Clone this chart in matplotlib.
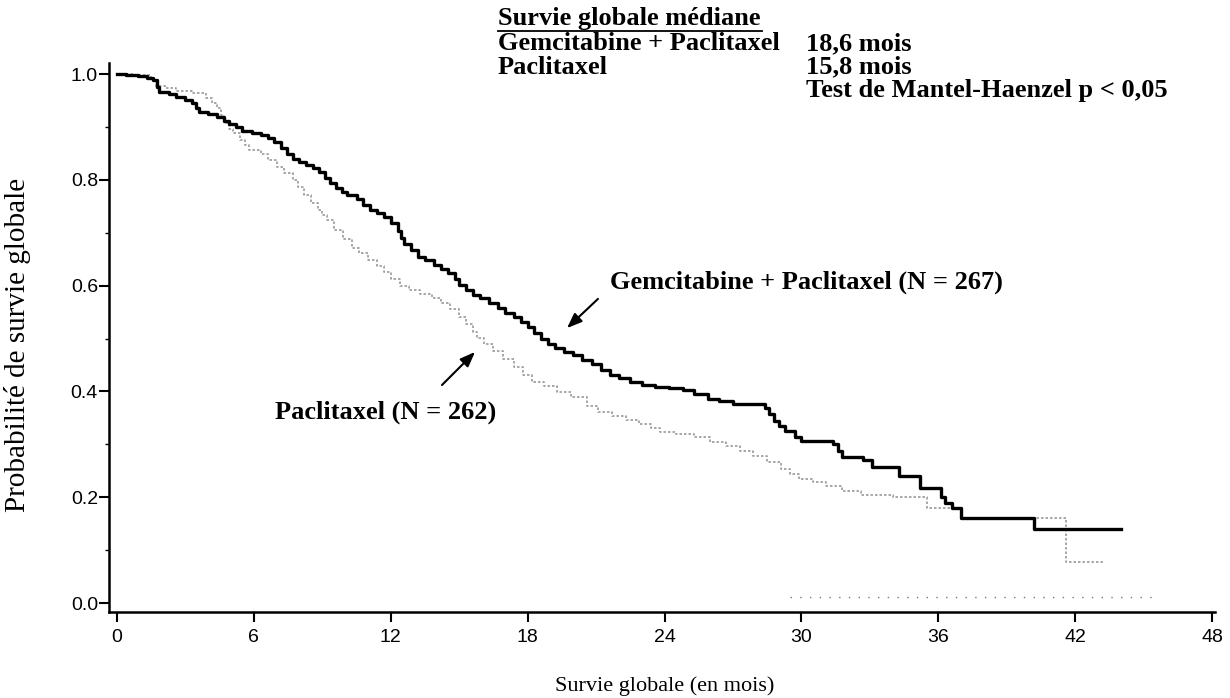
import matplotlib
matplotlib.use("Agg")
import matplotlib.pyplot as plt

# courbes de Kaplan-Meier (mois, probabilité)
gem_t = [0, 0.4, 0.9, 1.3, 1.6, 1.75, 1.85, 2.3, 2.6, 3.0, 3.3, 3.45, 3.6, 4.0, 4.4,
         4.7, 4.9, 5.2, 5.5, 5.9, 6.3, 6.6, 6.9, 7.2, 7.45, 7.7, 8.0, 8.3, 8.6, 8.85,
         9.1, 9.35, 9.6, 9.85, 10.1, 10.5, 10.8, 11.1, 11.4, 11.7, 12.0, 12.3, 12.45,
         12.6, 12.9, 13.2, 13.5, 13.9, 14.2, 14.5, 14.8, 15.0, 15.3, 15.6, 15.9, 16.3,
         16.7, 17.0, 17.4, 17.7, 18.0, 18.3, 18.6, 18.9, 19.2, 19.6, 20.0, 20.4, 20.8,
         21.2, 21.6, 22.0, 22.5, 23.0, 23.6, 24.2, 24.8, 25.3, 25.9, 26.4, 27.0, 28.4,
         28.6, 28.8, 29.0, 29.3, 29.7, 30.0, 31.4, 31.6, 31.8, 32.7, 33.1, 34.3, 35.2,
         36.1, 36.3, 36.6, 37.0, 40.2, 44.0]
gem_s = [1.0, 0.998, 0.996, 0.993, 0.988, 0.975, 0.966, 0.962, 0.956, 0.951, 0.945,
         0.936, 0.928, 0.925, 0.919, 0.912, 0.906, 0.9, 0.893, 0.889, 0.885, 0.879,
         0.871, 0.86, 0.848, 0.84, 0.834, 0.828, 0.822, 0.815, 0.803, 0.794, 0.785,
         0.777, 0.771, 0.763, 0.752, 0.744, 0.737, 0.729, 0.718, 0.704, 0.69, 0.679,
         0.668, 0.655, 0.648, 0.639, 0.632, 0.624, 0.612, 0.602, 0.591, 0.583, 0.577,
         0.568, 0.558, 0.549, 0.54, 0.532, 0.522, 0.51, 0.50, 0.49, 0.482, 0.475,
         0.468, 0.46, 0.451, 0.441, 0.432, 0.425, 0.418, 0.413, 0.409, 0.406, 0.402,
         0.395, 0.386, 0.381, 0.377, 0.368, 0.357, 0.345, 0.335, 0.325, 0.313, 0.307,
         0.3, 0.288, 0.277, 0.27, 0.258, 0.24, 0.218, 0.2, 0.19, 0.18, 0.16, 0.14, 0.14]

pac_t = [0, 0.8, 1.5, 1.7, 2.1, 2.6, 3.3, 3.9, 4.15, 4.4, 4.55, 4.7, 4.9, 5.1, 5.4,
         5.6, 5.8, 6.3, 6.6, 7.0, 7.3, 7.7, 7.95, 8.2, 8.5, 8.8, 9.0, 9.2, 9.5, 9.9,
         10.3, 10.6, 11.0, 11.4, 11.7, 12.0, 12.4, 12.8, 13.3, 13.8, 14.2, 14.6, 15.0,
         15.3, 15.6, 15.8, 16.1, 16.5, 16.9, 17.4, 17.8, 18.2, 18.7, 19.3, 19.9, 20.6,
         21.1, 21.7, 22.3, 22.9, 23.4, 23.8, 24.5, 25.3, 26.0, 26.7, 27.3, 27.9, 28.5,
         29.1, 29.5, 29.9, 30.5, 31.1, 31.8, 32.6, 34.0, 35.5, 37.0, 41.6, 43.2]
pac_s = [1.0, 0.998, 0.99, 0.978, 0.974, 0.968, 0.964, 0.955, 0.946, 0.936, 0.922,
         0.908, 0.897, 0.888, 0.876, 0.866, 0.857, 0.848, 0.838, 0.824, 0.813, 0.80,
         0.786, 0.772, 0.757, 0.744, 0.733, 0.724, 0.705, 0.688, 0.672, 0.661, 0.649,
         0.637, 0.625, 0.612, 0.6, 0.592, 0.585, 0.576, 0.567, 0.556, 0.54, 0.528,
         0.513, 0.502, 0.49, 0.476, 0.462, 0.447, 0.432, 0.418, 0.41, 0.399, 0.389,
         0.373, 0.362, 0.353, 0.346, 0.339, 0.331, 0.324, 0.319, 0.314, 0.305, 0.296,
         0.287, 0.278, 0.266, 0.254, 0.243, 0.235, 0.228, 0.221, 0.212, 0.205, 0.2,
         0.18, 0.16, 0.077, 0.077]

x_ticks = [0, 6, 12, 18, 24, 30, 36, 42, 48]
y_ticks = [0.0, 0.2, 0.4, 0.6, 0.8, 1.0]
y_labels = ["0.0", "0.2", "0.4", "0.6", "0.8", "1.0"]
zero_line = [29.5, 45.5]

W, H = 1230, 698
serif = ["Liberation Serif", "DejaVu Serif"]


def fx(px):
    return px / W


def fy(py):
    return 1 - py / H


fig = plt.figure(figsize=(W / 100, H / 100), dpi=100)
ax = fig.add_axes([fx(109), fy(612), fx(1215) - fx(109), fy(63) - fy(612)])

ax.step(pac_t, pac_s, where="post", color="#9a9a9a", lw=1.2, ls=(0, (1.5, 1.2)))
ax.step(gem_t, gem_s, where="post", color="black", lw=2.4)
ax.hlines(0.012, zero_line[0], zero_line[1], color="#777777", lw=1.0, ls=(0, (1, 6)))

ax.set_xlim(-0.35, 48.13)
ax.set_ylim(-0.017, 1.021)
ax.set_xticks(x_ticks)
ax.set_yticks(y_ticks)
ax.set_yticklabels(y_labels)
ax.set_yticks([0.1, 0.3, 0.5, 0.7, 0.9], minor=True)
for s in ["top", "right"]:
    ax.spines[s].set_visible(False)
for s in ["left", "bottom"]:
    ax.spines[s].set_linewidth(1.8)
ax.tick_params(axis="both", which="major", length=7, width=1.5, labelsize=14)
ax.tick_params(axis="y", which="minor", length=3, width=1)
ax.tick_params(axis="y", pad=1)
ax.tick_params(axis="x", pad=5)
for lab in ax.get_xticklabels() + ax.get_yticklabels():
    lab.set_family(["Liberation Sans", "DejaVu Sans"])

# bloc de texte en haut
tb = dict(family=serif, weight="bold", fontsize=19, va="center", ha="left")
fig.text(fx(498), fy(18), "Survie globale médiane", **tb)
fig.text(fx(498), fy(44), "Gemcitabine + Paclitaxel", **tb)
fig.text(fx(806), fy(44), "18,6 mois", **tb)
fig.text(fx(498), fy(67), "Paclitaxel", **tb)
fig.text(fx(806), fy(67), "15,8 mois", **tb)
fig.text(fx(806), fy(90), "Test de Mantel-Haenzel p < 0,05", **tb)
fig.add_artist(plt.Line2D([fx(498), fx(762)], [fy(31), fy(31)], color="black", lw=1.3))

# annotations
fig.text(fx(610), fy(282), "Gemcitabine + Paclitaxel (N = 267)", **tb)
fig.text(fx(275), fy(412), "Paclitaxel (N = 262)", **tb)
arw = dict(arrowstyle="-|>,head_length=0.9,head_width=0.35", color="black", lw=1.5)
ax.annotate("", xy=(fx(565), fy(330)), xytext=(fx(600), fy(297)),
            xycoords="figure fraction", textcoords="figure fraction", arrowprops=arw)
ax.annotate("", xy=(fx(477), fy(350)), xytext=(fx(440), fy(387)),
            xycoords="figure fraction", textcoords="figure fraction", arrowprops=arw)

fig.text(fx(18), fy(345), "Probabilité de survie globale", family=serif, fontsize=21,
         rotation=90, ha="center", va="center")
fig.text(fx(665), fy(686), "Survie globale (en mois)", family=serif, fontsize=16,
         ha="center", va="center")

fig.savefig("out.png", dpi=100)
